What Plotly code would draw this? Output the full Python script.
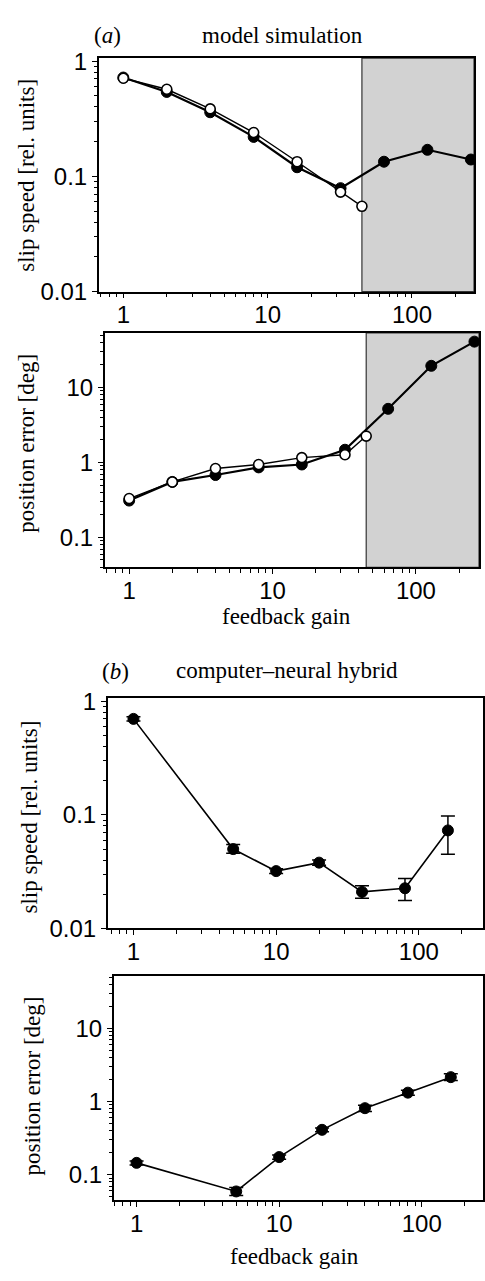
import plotly.graph_objects as go

# ---------------- data ----------------
# (a) model simulation
sim_gain_filled = [1, 2, 4, 8, 16, 32, 64, 128, 256]
sim_slip_filled = [0.72, 0.54, 0.36, 0.22, 0.12, 0.079, 0.134, 0.17, 0.14]
sim_gain_open = [1, 2, 4, 8, 16, 32, 45]
sim_slip_open = [0.71, 0.57, 0.385, 0.24, 0.134, 0.073, 0.055]

sim_pos_filled = [0.31, 0.55, 0.68, 0.86, 0.94, 1.48, 5.2, 19.5, 41]
sim_pos_open = [0.33, 0.55, 0.83, 0.94, 1.16, 1.27, 2.25]

SHADE_START = 45

# (b) computer-neural hybrid
hyb_gain = [1, 5, 10, 20, 40, 80, 160]
hyb_slip = [0.70, 0.050, 0.032, 0.038, 0.021, 0.0226, 0.073]
hyb_slip_err_plus = [0.03, 0.005, 0.0015, 0.002, 0.0028, 0.005, 0.025]
hyb_slip_err_minus = [0.03, 0.004, 0.0015, 0.002, 0.0025, 0.005, 0.028]

hyb_pos = [0.145, 0.059, 0.174, 0.41, 0.81, 1.32, 2.15]
hyb_pos_err_plus = [0.009, 0.008, 0.011, 0.025, 0.08, 0.1, 0.25]
hyb_pos_err_minus = [0.009, 0.007, 0.011, 0.025, 0.08, 0.1, 0.22]

x_tickvals = [1, 10, 100]
x_ticktext = ["1", "10", "100"]
y_tickvals_slip = [0.01, 0.1, 1]
y_ticktext_slip = ["0.01", "0.1", "1"]
y_tickvals_pos = [0.1, 1, 10]
y_ticktext_pos = ["0.1", "1", "10"]

# ---------------- layout helpers ----------------
W, H = 485, 1281


def px(x, y):
    return x / W, 1 - y / H


def minor_vals(lo_exp, hi_exp):
    vals = []
    for e in range(lo_exp, hi_exp + 1):
        for m in range(2, 10):
            vals.append(m * 10 ** e)
    return vals


SANS = "Liberation Sans, Arial, sans-serif"
SERIF = "Liberation Serif, Times New Roman, serif"

fig = go.Figure()

# panel pixel boxes: (left, right, top, bottom)
panels = {
    1: dict(box=(99, 475, 48, 286), xr=[-0.17, 2.43], yr=[-2.0, 0.026], kind="slip"),
    2: dict(box=(105, 480, 328, 567), xr=[-0.17, 2.44], yr=[-1.40, 1.73], kind="pos"),
    3: dict(box=(108, 484, 700, 935), xr=[-0.18, 2.45], yr=[-2.0, 0.03], kind="slip"),
    4: dict(box=(114, 484, 983, 1212), xr=[-0.16, 2.43], yr=[-1.35, 1.72], kind="pos"),
}

layout_axes = {}
for i, p in panels.items():
    l, r, t, b = p["box"]
    xd = [l / W, r / W]
    yd = [1 - b / H, 1 - t / H]
    common = dict(
        type="log",
        showgrid=False,
        zeroline=False,
        showline=True,
        linecolor="black",
        linewidth=1.6,
        mirror=True,
        ticks="outside",
        ticklen=5,
        tickwidth=1.3,
        tickcolor="black",
        tickfont=dict(family=SANS, size=24, color="black"),
    )
    xa = dict(
        common,
        domain=xd,
        range=p["xr"],
        tickvals=x_tickvals,
        ticktext=x_ticktext,
        ticklabelstandoff=-4,
        minor=dict(tickvals=minor_vals(-1, 2), ticks="outside", ticklen=4,
                   tickwidth=1.1, tickcolor="black", showgrid=False),
        anchor=f"y{i}" if i > 1 else "y",
    )
    if p["kind"] == "slip":
        tv, tt, mv = y_tickvals_slip, y_ticktext_slip, minor_vals(-3, 0)
    else:
        tv, tt, mv = y_tickvals_pos, y_ticktext_pos, minor_vals(-2, 1)
    ya = dict(
        common,
        domain=yd,
        range=p["yr"],
        tickvals=tv,
        ticktext=tt,
        minor=dict(tickvals=mv, ticks="outside", ticklen=3,
                   tickwidth=1.1, tickcolor="black", showgrid=False),
        anchor=f"x{i}" if i > 1 else "x",
    )
    layout_axes["xaxis" if i == 1 else f"xaxis{i}"] = xa
    layout_axes["yaxis" if i == 1 else f"yaxis{i}"] = ya


def axref(i):
    return ("x", "y") if i == 1 else (f"x{i}", f"y{i}")


# ---------------- traces ----------------
filled_marker = dict(symbol="circle", size=11, color="black",
                     line=dict(color="black", width=1))
open_marker = dict(symbol="circle", size=10, color="white",
                   line=dict(color="black", width=1.6))

# panel 1
xr, yr = axref(1)
fig.add_trace(go.Scatter(x=sim_gain_filled, y=sim_slip_filled, mode="lines+markers",
                         line=dict(color="black", width=2.2), marker=filled_marker,
                         xaxis=xr, yaxis=yr, showlegend=False))
fig.add_trace(go.Scatter(x=sim_gain_open, y=sim_slip_open, mode="lines+markers",
                         line=dict(color="black", width=1.4), marker=open_marker,
                         xaxis=xr, yaxis=yr, showlegend=False))
# panel 2
xr, yr = axref(2)
fig.add_trace(go.Scatter(x=sim_gain_filled, y=sim_pos_filled, mode="lines+markers",
                         line=dict(color="black", width=2.2), marker=filled_marker,
                         xaxis=xr, yaxis=yr, showlegend=False))
fig.add_trace(go.Scatter(x=sim_gain_open, y=sim_pos_open, mode="lines+markers",
                         line=dict(color="black", width=1.4), marker=open_marker,
                         xaxis=xr, yaxis=yr, showlegend=False))
# panel 3
xr, yr = axref(3)
fig.add_trace(go.Scatter(x=hyb_gain, y=hyb_slip, mode="lines+markers",
                         line=dict(color="black", width=1.6), marker=filled_marker,
                         error_y=dict(type="data", array=hyb_slip_err_plus,
                                      arrayminus=hyb_slip_err_minus, symmetric=False,
                                      color="black", thickness=1.5, width=7),
                         xaxis=xr, yaxis=yr, showlegend=False))
# panel 4
xr, yr = axref(4)
fig.add_trace(go.Scatter(x=hyb_gain, y=hyb_pos, mode="lines+markers",
                         line=dict(color="black", width=1.6), marker=filled_marker,
                         error_y=dict(type="data", array=hyb_pos_err_plus,
                                      arrayminus=hyb_pos_err_minus, symmetric=False,
                                      color="black", thickness=1.5, width=7),
                         xaxis=xr, yaxis=yr, showlegend=False))

# ---------------- shading (panels 1, 2) ----------------
shapes = []
for i in (1, 2):
    xr, yr = axref(i)
    shapes.append(dict(type="rect", xref=xr, yref=f"{yr} domain",
                       x0=SHADE_START, x1=10 ** panels[i]["xr"][1], y0=0, y1=1,
                       fillcolor="#d2d2d2", line=dict(color="#333333", width=1.2),
                       layer="below"))

# ---------------- text ----------------
annotations = []


def add_text(text, x, y, size=23, angle=0):
    xp, yp = px(x, y)
    annotations.append(dict(text=text, x=xp, y=yp, xref="paper", yref="paper",
                            showarrow=False, textangle=angle,
                            font=dict(family=SERIF, size=size, color="black"),
                            xanchor="center", yanchor="middle"))


add_text("(<i>a</i>)", 108, 25)
add_text("model simulation", 283, 25)
add_text("(<i>b</i>)", 116, 673)
add_text("computer\u2013neural hybrid", 288, 672)
add_text("slip speed [rel. units]", 27, 167, angle=-90)
add_text("position error [deg]", 27, 440, angle=-90)
add_text("slip speed [rel. units]", 30, 821, angle=-90)
add_text("position error [deg]", 33, 1095, angle=-90)
add_text("feedback gain", 287, 617)
add_text("feedback gain", 295, 1269)

fig.update_layout(
    width=W, height=H, autosize=False,
    margin=dict(l=0, r=0, t=0, b=0),
    paper_bgcolor="white", plot_bgcolor="white",
    shapes=shapes, annotations=annotations,
    showlegend=False,
    **layout_axes,
)

fig.write_html(
    "out.html",
    config={"displayModeBar": False},
    post_script="document.body.style.margin='0';document.body.style.overflow='hidden';",
)
